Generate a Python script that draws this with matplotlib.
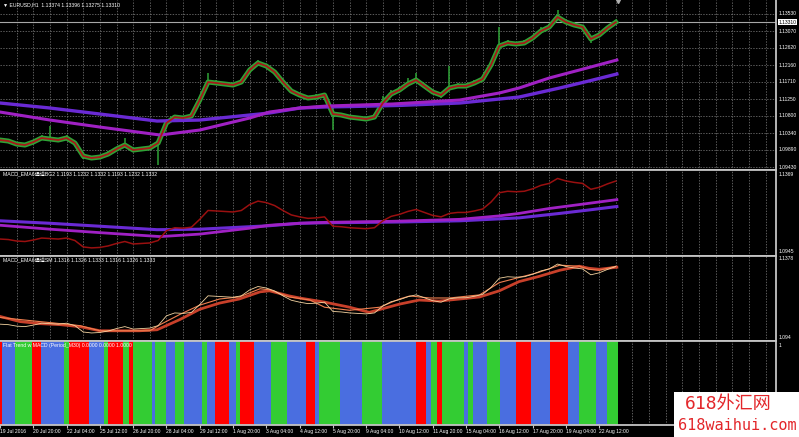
import matplotlib.pyplot as plt
import numpy as np
from matplotlib.patches import Rectangle

# --- values, x = H1 bar index from 19 Jul 2016 ---
bars = list(range(0, 593, 8))
close = [1.10153, 1.10126, 1.10045, 1.10019, 1.10099, 1.10207, 1.10180, 1.10153, 1.10207, 1.10073,
         1.09724, 1.09671, 1.09697, 1.09778, 1.09912, 1.10019, 1.09885, 1.09912, 1.09939, 1.10073,
         1.10609, 1.10769, 1.10743, 1.10796, 1.11225, 1.11707, 1.11681, 1.11654, 1.11627, 1.11707,
         1.12029, 1.12217, 1.12136, 1.11975, 1.11707, 1.11466, 1.11359, 1.11279, 1.11305, 1.11359,
         1.10850, 1.10823, 1.10769, 1.10743, 1.10716, 1.10769, 1.11145, 1.11386, 1.11493, 1.11654,
         1.11761, 1.11600, 1.11439, 1.11359, 1.11547, 1.11600, 1.11600, 1.11681, 1.11788, 1.12163,
         1.12672, 1.12753, 1.12726, 1.12753, 1.12887, 1.13074, 1.13181, 1.13449, 1.13315, 1.13235,
         1.13181, 1.12860, 1.12967, 1.13154, 1.13310]
hi_pips = [4, 6, 3, 5, 6, 7, 36, 4, 9, 3, 5, 4, 6, 8, 5, 20, 3, 5, 6, 4,
           8, 6, 4, 6, 8, 24, 9, 6, 4, 8, 9, 7, 4, 3, 5, 8, 6, 4, 8, 4,
           3, 5, 3, 6, 4, 8, 18, 10, 7, 16, 18, 4, 6, 4, 58, 8, 6, 8, 6, 10,
           52, 8, 6, 8, 6, 10, 8, 18, 6, 8, 4, 3, 6, 6, 4]
lo_pips = [5, 3, 6, 4, 3, 3, 5, 4, 3, 6, 8, 4, 5, 3, 5, 3, 6, 4, 5, 58,
           4, 5, 4, 6, 4, 3, 5, 4, 6, 4, 3, 5, 6, 8, 6, 4, 5, 6, 3, 8,
           42, 6, 6, 4, 5, 3, 5, 4, 5, 3, 4, 6, 6, 8, 4, 5, 4, 3, 5, 6,
           4, 6, 4, 5, 4, 4, 5, 4, 6, 4, 8, 10, 4, 5, 3]

slow_bars = [0, 48, 96, 151, 192, 240, 259, 288, 314, 336, 384, 442, 499, 538, 566, 593]
ma_slow = [1.11145, 1.11011, 1.10850, 1.10662, 1.10689, 1.10823, 1.10877, 1.11010,
           1.11040, 1.11050, 1.11080, 1.11145, 1.11305, 1.11547, 1.11734, 1.11922]
mid_bars = [0, 48, 96, 154, 192, 240, 259, 288, 314, 377, 442, 480, 499, 528, 557, 593]
ma_mid = [1.10903, 1.10689, 1.10501, 1.10287, 1.10421, 1.10743, 1.10903, 1.11011,
          1.11064, 1.11118, 1.11225, 1.11413, 1.11547, 1.11815, 1.12029, 1.12297]

sm_mid_bars = [0, 38, 77, 96, 144, 154, 173, 192, 211, 230, 250, 259, 278, 298, 312,
               336, 365, 384, 394, 413, 432, 461, 480, 499, 518, 538, 557, 566, 576, 592]
sm_mid = [1.10520, 1.10296, 1.10071, 1.09790, 1.09790, 1.10127, 1.10689, 1.11195, 1.11532, 1.11644,
          1.12094, 1.12038, 1.11644, 1.11476, 1.11082, 1.10914, 1.11082, 1.11532, 1.11701, 1.11588,
          1.11588, 1.11757, 1.12431, 1.12712, 1.12993, 1.13387, 1.13330, 1.13162, 1.13106, 1.13330]
sm_slow_bars = [0, 19, 38, 58, 77, 96, 115, 134, 151, 173, 192, 211, 230, 250, 259, 278, 288,
                312, 336, 355, 384, 403, 422, 442, 461, 480, 499, 518, 538, 557, 566, 576, 593]
sm_slow = [1.10577, 1.10296, 1.10183, 1.10127, 1.10015, 1.09790, 1.09790, 1.09790, 1.09846, 1.10408,
           1.10970, 1.11307, 1.11532, 1.11925, 1.11982, 1.11701, 1.11588, 1.11363, 1.11082, 1.10801,
           1.11251, 1.11476, 1.11420, 1.11532, 1.11644, 1.11982, 1.12487, 1.12768, 1.13106, 1.13330,
           1.13218, 1.13162, 1.13274]

flat_edges = [0, 2, 14, 31, 39, 62, 66, 86, 100, 104, 118, 124, 128, 146, 149, 160, 168, 177, 194, 199,
              207, 220, 227, 231, 244, 261, 276, 294, 303, 307, 327, 348, 367, 400, 410, 414, 420, 425,
              446, 450, 455, 468, 481, 496, 510, 529, 546, 557, 573, 584, 594]
flat_state = "rbgrbgrbgrgrgbgbgbgbrbgrbgbrbgbgbrbgrgbgbgbrbrbgbg"

time_labels = ["19 Jul 2016", "20 Jul 20:00", "22 Jul 04:00", "25 Jul 12:00", "26 Jul 20:00",
               "28 Jul 04:00", "29 Jul 12:00", "1 Aug 20:00", "3 Aug 04:00", "4 Aug 12:00",
               "5 Aug 20:00", "9 Aug 04:00", "10 Aug 12:00", "11 Aug 20:00", "15 Aug 04:00",
               "16 Aug 12:00", "17 Aug 20:00", "19 Aug 04:00", "22 Aug 12:00"]
price_levels = [1.13530, 1.13070, 1.12620, 1.12160, 1.11710, 1.11250, 1.10800, 1.10340, 1.09890, 1.09430]
last_price = 1.13310

W, H = 799, 437
SMALL = ['Liberation Sans', 'Noto Sans CJK SC']
fig = plt.figure(figsize=(W / 100, H / 100), dpi=100, facecolor='black')


def panel(top, bottom):
    ax = fig.add_axes([0, 1 - bottom / H, 776 / W, (bottom - top) / H], facecolor='black')
    ax.set_xlim(0, 746)
    ax.set_xticks([])
    ax.set_yticks([])
    for s in ax.spines.values():
        s.set_color('#c4c4c4')
        s.set_linewidth(1.3)
    ax.spines['left'].set_visible(False)
    for xv in range(16, 746, 16):
        ax.axvline(xv, color='#808080', lw=0.5, ls=(0, (2, 2)), zorder=0)
    return ax


def rlabel(ax, y, txt, **kw):
    ax.text(1.003, y, txt, transform=ax.get_yaxis_transform(), color='white',
            fontsize=3.6, va='center', ha='left', clip_on=False, family=SMALL, **kw)


def title(ax, txt):
    ax.text(0.004, 1 - 5 / (ax.bbox.height), txt, transform=ax.transAxes,
            color='white', fontsize=3.7, va='center', family=SMALL, zorder=6)


ax1 = panel(0, 170)
ax2 = panel(170, 256)
ax3 = panel(256, 341)
ax4 = panel(341, 425)
ax1.spines['top'].set_visible(False)

# main price window
close = np.array(close)
high = close + np.array(hi_pips) * 0.0001
low = close - np.array(lo_pips) * 0.0001
ax1.set_ylim(1.09350, 1.13905)
for lv in price_levels:
    ax1.axhline(lv, color='#808080', lw=0.5, ls=(0, (2, 2)), zorder=0)
    rlabel(ax1, lv, f"{lv:.5f}")
ax1.axhline(last_price, color='#a8a8a8', lw=0.8, zorder=1)
ax1.vlines(bars, low, high, color='#2ea336', lw=1.1, zorder=2)
ax1.plot(bars, close, color='#2ea336', lw=3.6, zorder=2)
ax1.plot(slow_bars, ma_slow, color='#6a2ad4', lw=2.4, zorder=3)
ax1.plot(mid_bars, ma_mid, color='#a021c4', lw=2.2, zorder=3)
ax1.plot(bars, close, color='#a81818', lw=1.3, zorder=4)
ax1.plot(594, 1.1388, marker='v', color='#b0b0b0', ms=3, zorder=5)
ax1.text(1.003, last_price, f"{last_price:.5f}", transform=ax1.get_yaxis_transform(),
         color='black', fontsize=3.6, va='center', ha='left', clip_on=False, family=SMALL,
         bbox=dict(facecolor='white', edgecolor='none', pad=0.4))
title(ax1, "\u25bc EURUSD,H1  1.13374 1.13396 1.13275 1.13310")

# second window
ax2.set_ylim(1.0923, 1.1391)
ax2.plot(slow_bars, ma_slow, color='#6a2ad4', lw=2.2)
ax2.plot(mid_bars, ma_mid, color='#a021c4', lw=2.0)
ax2.plot(bars, close, color='#9a1010', lw=1.1)
rlabel(ax2, 1.1369, "1.1369")
rlabel(ax2, 1.0945, "1.0945")
title(ax2, "MACD_EMA6通道BG2 1.1193 1.1232 1.1332 1.1193 1.1232 1.1332")

# third window
ax3.set_ylim(1.0923, 1.1389)
ax3.plot(sm_slow_bars, sm_slow, color='#c8402a', lw=2.0)
ax3.plot(sm_mid_bars, sm_mid, color='#f08050', lw=0.8)
ax3.plot(bars, close, color='#f3d3a0', lw=0.6)
rlabel(ax3, 1.1378, "1.1378")
rlabel(ax3, 1.0940, "1.094")
title(ax3, "MACD_EMA6通道SM 1.1316 1.1326 1.1333 1.1316 1.1326 1.1333")

# flat/trend histogram
colors = {'r': '#ff0000', 'g': '#33cc33', 'b': '#4a6ee0'}
ax4.set_ylim(0, 1)
ax4.bar(flat_edges[:-1], [1] * len(flat_state), width=np.diff(flat_edges), align='edge',
        color=[colors[c] for c in flat_state], lw=0, zorder=2)
rlabel(ax4, 0.95, "1")
title(ax4, "Flat Trend w MACD (Period_M30) 0.0000 0.0000 1.0000")
ax4.set_xticks(range(0, 32 * len(time_labels), 32))
ax4.set_xticklabels(time_labels, family=SMALL)
ax4.tick_params(axis='x', colors='white', labelsize=3.6, length=2, pad=1, color='#c4c4c4')
for t in ax4.get_xticklabels():
    t.set_ha('left')

# site watermark
fig.patches.append(Rectangle((674 / W, 0), 125 / W, 45 / H, transform=fig.transFigure,
                             facecolor='white', edgecolor='none', zorder=10))
fig.text(728 / W, 1 - 404 / H, "618外汇网", color='#e3262a', fontsize=13, ha='center', va='center',
         family=['DejaVu Sans Mono', 'Noto Sans CJK SC'], zorder=11)
fig.text(737 / W, 1 - 425 / H, "618waihui.com", color='#e3262a', fontsize=11, ha='center', va='center',
         family=['DejaVu Sans Mono'], zorder=11)

fig.savefig('out.png', dpi=100, facecolor='black')
